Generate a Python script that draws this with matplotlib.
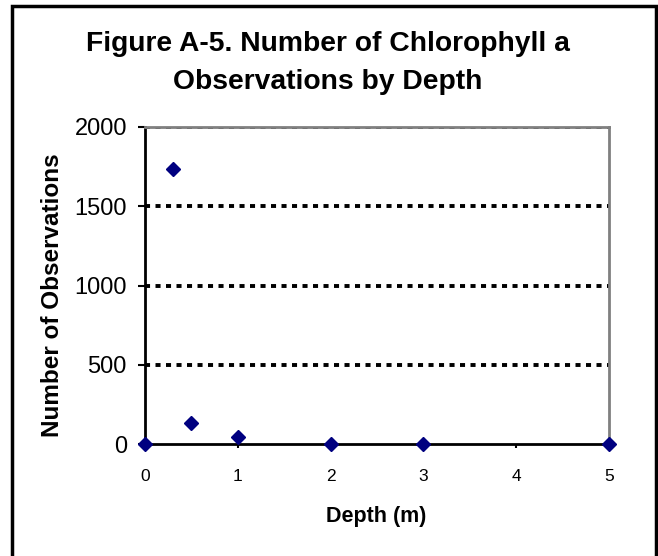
import matplotlib.pyplot as plt
from matplotlib.patches import Rectangle

# datos
profundidad = [0, 0.3, 0.5, 1, 2, 3, 5]
observaciones = [0, 1735, 135, 45, 0, 0, 0]
yticks = [0, 500, 1000, 1500, 2000]
xticks = [0, 1, 2, 3, 4, 5]

plt.rcParams['font.family'] = ['Liberation Sans', 'DejaVu Sans']

fig = plt.figure(figsize=(6.58, 5.56), dpi=100)
ax = fig.add_axes([0.2204, 0.2014, 0.7052, 0.5702])

# marco exterior
fig.patches.append(Rectangle((12 / 658, -0.02), (656 - 12) / 658, 1.02 - 6 / 556,
                             transform=fig.transFigure, fill=False,
                             edgecolor='black', linewidth=2.5, zorder=0))

for y in yticks[1:]:
    ax.axhline(y, color='black', linewidth=2.8, linestyle=(0, (1.3, 1.4)), zorder=2)

ax.plot(profundidad, observaciones, linestyle='none', marker='D', markersize=7,
        color='#000080', clip_on=False, zorder=4)

ax.set_xlim(0, 5)
ax.set_ylim(0, 2000)
ax.set_xticks(xticks)
ax.set_yticks(yticks)
ax.tick_params(axis='x', labelsize=12.5, direction='out', length=3, width=1.5, pad=15)
ax.tick_params(axis='y', labelsize=17, direction='out', length=5, width=1.5, pad=8)

ax.spines['left'].set_linewidth(2)
ax.spines['bottom'].set_linewidth(2)
ax.spines['top'].set_color('#808080')
ax.spines['right'].set_color('#808080')
ax.spines['top'].set_linewidth(2)
ax.spines['right'].set_linewidth(2)

ax.set_xlabel('Depth (m)', fontsize=15.5, fontweight='bold')
ax.xaxis.set_label_coords(0.498, -0.195)
ax.set_ylabel('Number of Observations', fontsize=17.5, fontweight='bold')
ax.yaxis.set_label_coords(-0.174, 0.47)

# titulo en dos lineas
fig.text(0.4985, 1 - 51 / 556, 'Figure A-5. Number of Chlorophyll a',
         ha='center', va='baseline', fontsize=20.3, fontweight='bold')
fig.text(0.4985, 1 - 89 / 556, 'Observations by Depth',
         ha='center', va='baseline', fontsize=20.3, fontweight='bold')

plt.savefig('out.png', dpi=100)
